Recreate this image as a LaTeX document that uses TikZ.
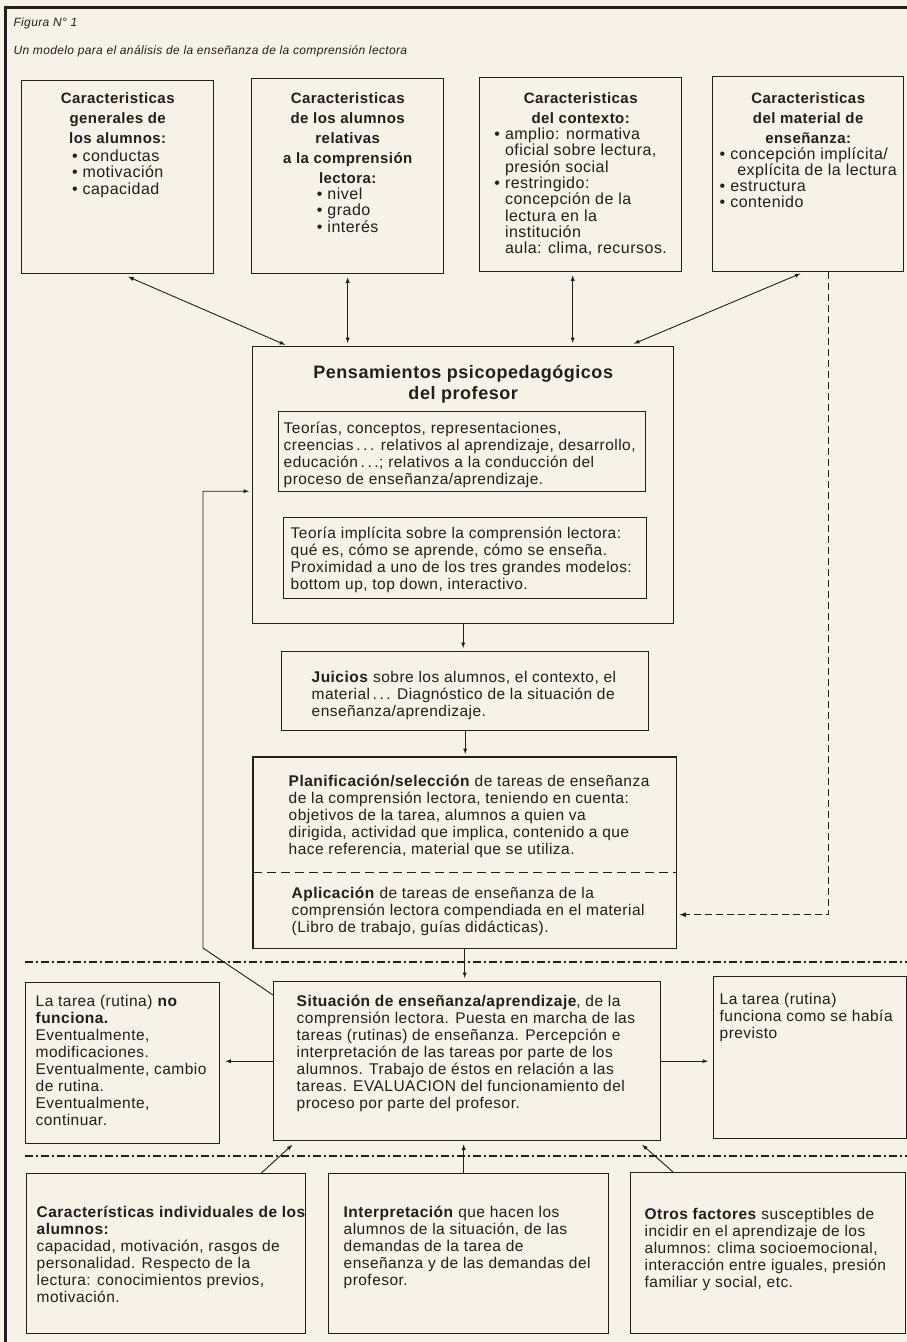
\documentclass[tikz,border=0pt]{standalone}
\usepackage{fontspec}
\setmainfont{Liberation Sans}[LetterSpace=3.0]
\usepackage{tikz}
\usetikzlibrary{arrows}
\usetikzlibrary{calc}
\definecolor{paper}{RGB}{246,242,232}
\definecolor{ink}{RGB}{33,30,28}
\tikzset{
  box/.style={
    rectangle,
    draw=ink, line width=1.4pt,
    anchor=north west,
    inner sep=0pt},
  link/.style={<->, line width=0.9pt, shorten <=3pt, shorten >=3pt},
  feed/.style={->, line width=0.9pt, shorten >=3pt},
  hint/.style={->, line width=1.2pt, dash pattern=on 7pt off 4pt, shorten >=3pt},
  part line/.style={line width=1.3pt, dash pattern=on 9pt off 5pt},
  level line/.style={line width=1.1pt, dash pattern=on 8pt off 3pt on 2pt off 3pt},
}
\tikzset{>=latex}
\newcommand{\boxtxt}[3]{\parbox[t][#2][t]{#1}{#3}}
\newcommand{\titfont}{\fontsize{15}{20}\selectfont\bfseries}
\newcommand{\headfont}{\fontsize{18}{21}\selectfont\bfseries}
\newcommand{\listfont}{\fontsize{16}{15.7}\selectfont\mdseries}
\newcommand{\bodyfont}{\fontsize{15.5}{17}\selectfont}
\newcommand{\txtlines}[3]{\vspace*{#2}\hspace*{#1}\bodyfont\begin{tabular}[t]{@{}l@{}}#3\end{tabular}}

\begin{document}
\begin{tikzpicture}[x=1pt,y=-1pt,color=ink]
\fill[paper] (0,0) rectangle (907,1342);
\useasboundingbox (0,0) rectangle (907,1342);
\draw[line width=3pt] (907,7) -- (5,7) -- (5,1342);

\node[anchor=base west, font=\fontsize{12}{15}\selectfont\itshape] (fig) at (10,26) {Figura N° 1};
\node[anchor=base west, font=\fontsize{12}{15}\selectfont\itshape] (caption) at (10,54) {Un modelo para el análisis de la enseñanza de la comprensión lectora};

% top row
\node[box] (gen) at (21,80) {\boxtxt{192pt}{193pt}{\vspace*{12pt}\centering\titfont Caracteristicas\\ generales de\\ los alumnos:\par\vspace{2pt}\listfont\begin{tabular}[t]{@{}l@{}}• conductas\\ • motivación\\ • capacidad\end{tabular}}};
\node[box] (rel) at (251,78) {\boxtxt{192pt}{195pt}{\vspace*{14pt}\centering\titfont Caracteristicas\\ de los alumnos\\ relativas\\ a la comprensión\\ lectora:\par\vspace{-1pt}\fontsize{16}{16.5}\selectfont\mdseries\begin{tabular}[t]{@{}l@{}}• nivel\\ • grado\\ • interés\end{tabular}}};
\node[box] (ctx) at (479,77) {\boxtxt{202pt}{194pt}{\vspace*{15pt}\centering\titfont Caracteristicas\\ del contexto:\par\listfont\begin{tabular}[t]{@{}l@{\hspace{5pt}}l@{}}•&amplio: normativa\\ &oficial sobre lectura,\\ &presión social\\ •&restringido:\\ &concepción de la\\ &lectura en la\\ &institución\\ &aula: clima, recursos.\end{tabular}}};
\node[box] (mat) at (712,76) {\boxtxt{191pt}{195pt}{\vspace*{16pt}\centering\titfont Caracteristicas\\ del material de\\ enseñanza:\par\listfont\begin{tabular}[t]{@{}l@{\hspace{5pt}}l@{}}•&concepción implícita/\\ &\hspace{7pt}explícita de la lectura\\ •&estructura\\ •&contenido\end{tabular}}};

% teacher's thinking
\node[box] (pens) at (252,346) {\boxtxt{421pt}{277pt}{\vspace*{19pt}\centering\headfont Pensamientos psicopedagógicos\\ del profesor}};
\node[box] (teo) at (278,411) {\boxtxt{367pt}{80pt}{\txtlines{5pt}{10pt}{Teorías, conceptos, representaciones,\\ creencias\,.\,.\,. relativos al aprendizaje, desarrollo,\\ educación\,.\,.\,.; relativos a la conducción del\\ proceso de enseñanza/aprendizaje.}}};
\node[box] (imp) at (283,517) {\boxtxt{363pt}{81pt}{\txtlines{7pt}{9pt}{Teoría implícita sobre la comprensión lectora:\\ qué es, cómo se aprende, cómo se enseña.\\ Proximidad a uno de los tres grandes modelos:\\ bottom up, top down, interactivo.}}};

\node[box] (juicios) at (281,651) {\boxtxt{367pt}{79pt}{\txtlines{30pt}{19pt}{\textbf{Juicios} sobre los alumnos, el contexto, el\\ material\,.\,.\,. Diagnóstico de la situación de\\ enseñanza/aprendizaje.}}};

\node[box, draw=none] (plan) at (253,757) {\boxtxt{422pt}{114pt}{\txtlines{35pt}{17pt}{\textbf{Planificación/selección} de tareas de enseñanza\\ de la comprensión lectora, teniendo en cuenta:\\ objetivos de la tarea, alumnos a quien va\\ dirigida, actividad que implica, contenido a que\\ hace referencia, material que se utiliza.}}};
\node[box, draw=none] (apli) at (253,871) {\boxtxt{422pt}{76pt}{\txtlines{38pt}{15pt}{\textbf{Aplicación} de tareas de enseñanza de la\\ comprensión lectora compendiada en el material\\ (Libro de trabajo, guías didácticas).}}};
\draw[line width=1.4pt] (plan.north west) rectangle (apli.south east);
\draw[part line] (plan.south west) -- (plan.south east);

% classroom
\node[box] (sit) at (273,981) {\boxtxt{387pt}{159pt}{\txtlines{23pt}{13pt}{\textbf{Situación de enseñanza/aprendizaje}, de la\\ comprensión lectora. Puesta en marcha de las\\ tareas (rutinas) de enseñanza. Percepción e\\ interpretación de las tareas por parte de los\\ alumnos. Trabajo de éstos en relación a las\\ tareas. EVALUACION del funcionamiento del\\ proceso por parte del profesor.}}};
\node[box] (nofunc) at (25,982) {\boxtxt{194pt}{161pt}{\txtlines{10pt}{12pt}{La tarea (rutina) \textbf{no}\\ \textbf{funciona.}\\ Eventualmente,\\ modificaciones.\\ Eventualmente, cambio\\ de rutina.\\ Eventualmente,\\ continuar.}}};
\node[box] (func) at (713,976) {\boxtxt{193pt}{162pt}{\txtlines{6pt}{16pt}{La tarea (rutina)\\ funciona como se había\\ previsto}}};

% other factors
\node[box] (indiv) at (26,1173) {\boxtxt{279pt}{160pt}{\txtlines{10pt}{32pt}{\textbf{Características individuales de los}\\ \textbf{alumnos:}\\ capacidad, motivación, rasgos de\\ personalidad. Respecto de la\\ lectura: conocimientos previos,\\ motivación.}}};
\node[box] (interp) at (328,1173) {\boxtxt{280pt}{160pt}{\txtlines{15pt}{32pt}{\textbf{Interpretación} que hacen los\\ alumnos de la situación, de las\\ demandas de la tarea de\\ enseñanza y de las demandas del\\ profesor.}}};
\node[box] (otros) at (630,1172) {\boxtxt{275pt}{161pt}{\txtlines{14pt}{35pt}{\textbf{Otros factores} susceptibles de\\ incidir en el aprendizaje de los\\ alumnos: clima socioemocional,\\ interacción entre iguales, presión\\ familiar y social, etc.}}};

\draw[level line] (25,962) -- (907,962);
\draw[level line] (25,1156) -- (907,1156);

\coordinate (ctxfoot) at ($(ctx.south)+(-8,0)$);
\coordinate (matfoot) at ($(mat.south)+(20,0)$);
\coordinate (back) at (203,948);
\coordinate (interptop) at ($(interp.north)+(-5,0)$);

\draw[link, shorten <=6pt] ($(gen.south)+(5,0)$) -- ($(pens.north west)+(36,0)$);
\draw[link] (rel.south) -- (rel.south |- pens.north);
\draw[link] (ctxfoot) -- (ctxfoot |- pens.north);
\draw[link, shorten >=6pt] ($(mat.south)+(-5,0)$) -- ($(pens.north east)+(-46,0)$);

\draw[feed] (pens.south) -- (pens.south |- juicios.north);
\draw[feed] (juicios.south) -- (juicios.south |- plan.north);
\draw[feed] (apli.south) -- (apli.south |- sit.north);
\draw[hint] (matfoot) |- ($(apli.east)+(0,5)$);
\draw[feed] ($(sit.north west)+(0,14)$) -- (back) |- ($(pens.west)+(0,6)$);

\draw[feed, shorten >=5pt] (sit.west) -- (sit.west -| nofunc.east);
\draw[feed, shorten >=5pt] (sit.east) -- (sit.east -| func.west);

\draw[feed, shorten >=5pt] ($(indiv.north east)+(-45,0)$) -- ($(sit.south west)+(23,0)$);
\draw[feed] (interptop) -- (interptop |- sit.south);
\draw[feed, shorten >=5pt] ($(otros.north west)+(43,0)$) -- ($(sit.south east)+(-23,0)$);
\end{tikzpicture}
\end{document}
